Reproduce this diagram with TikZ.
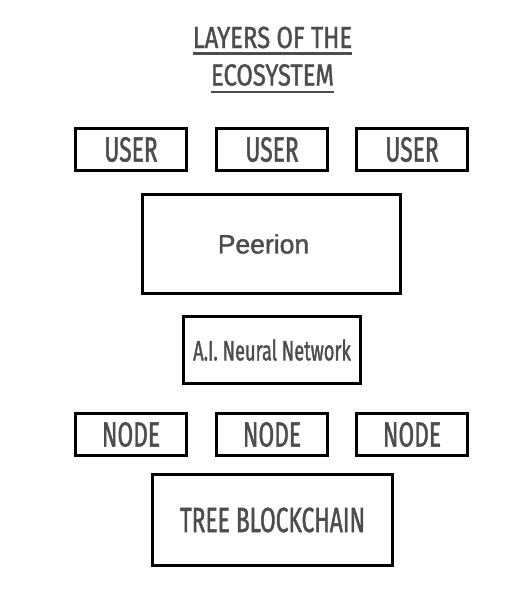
\documentclass[tikz,border=0pt]{standalone}
\usepackage{fontspec}
\setmainfont{Liberation Sans}
\newfontfamily\condfont[FakeStretch=0.65,FakeBold=1.3]{Fira Sans}
\newfontfamily\headfont[FakeStretch=0.78,FakeBold=1.3]{Fira Sans}
\newfontfamily\peerfont[FakeBold=1.6]{Liberation Sans}
\definecolor{inkgray}{RGB}{77,77,77}
\tikzset{
  layerbox/.style={draw=black,line width=3pt,inner sep=0pt,text=inkgray},
  smallbox/.style={layerbox,minimum width=111pt,minimum height=42pt,font=\condfont\fontsize{35}{35}\selectfont},
  titletext/.style={inner sep=0pt,text=inkgray,font=\headfont\fontsize{30.5}{30.5}\selectfont}
}
\begin{document}
\begin{tikzpicture}[x=1pt,y=-1pt]
        \useasboundingbox (0,0) rectangle (521,599) ;
        %\draw[very thin,gray,step=10] (0,0) grid (521,599) ;
        % title
        \node[titletext] (title1) at (272.5,37.5) {LAYERS OF THE} ;
        \node[titletext] (title2) at (272.5,75) {ECOSYSTEM} ;
        \draw[inkgray,line width=2.5pt] ([yshift=-5pt]title1.south west) -- ([yshift=-5pt]title1.south east) ;
        \draw[inkgray,line width=2.5pt] ([yshift=-6pt]title2.south west) -- ([yshift=-6pt]title2.south east) ;
        % users
        \node[smallbox] (user1) at (131,149.5) {USER} ;
        \node[smallbox] (user2) at (272,149.5) {USER} ;
        \node[smallbox] (user3) at (412,149.5) {USER} ;
        % platform
        \node[layerbox,minimum width=258pt,minimum height=99pt,
          font=\peerfont\fontsize{26.5}{26.5}\selectfont] (peerion) at (271.5,244) {Peerion\kern16pt} ;
        \node[layerbox,minimum width=177pt,minimum height=67pt,
          font=\condfont\fontsize{28}{28}\selectfont] (ainet) at (272,350) {A.I. Neural Network} ;
        % nodes
        \node[smallbox] (node1) at (131,434.5) {NODE} ;
        \node[smallbox] (node2) at (272,434.5) {NODE} ;
        \node[smallbox] (node3) at (412,434.5) {NODE} ;
        \node[layerbox,minimum width=240pt,minimum height=91pt,
          font=\condfont\fontsize{35}{35}\selectfont] (chain) at (272.5,520) {TREE BLOCKCHAIN} ;
      \end{tikzpicture}
\end{document}
